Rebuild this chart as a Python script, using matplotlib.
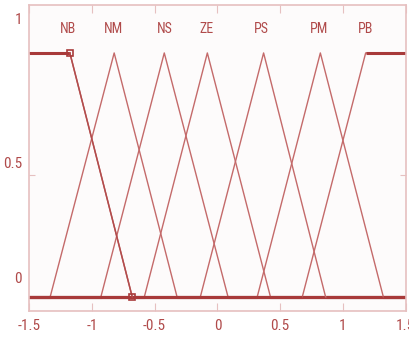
import numpy as np
import matplotlib
matplotlib.use("Agg")
import matplotlib.pyplot as plt
import matplotlib.transforms as mtransforms

# membership functions: (name, x breakpoints, y values)
names = ["NB", "NM", "NS", "ZE", "PS", "PM", "PB"]
mf_x = [
    [-1.5, -1.175, -0.678, 1.5],
    [-1.5, -1.332, -0.822, -0.321, 1.5],
    [-1.5, -0.928, -0.423, 0.085, 1.5],
    [-1.5, -0.582, -0.080, 0.423, 1.5],
    [-1.5, -0.136, 0.368, 0.862, 1.5],
    [-1.5, 0.317, 0.820, 1.322, 1.5],
    [-1.5, 0.676, 1.181, 1.5],
]
mf_y = [
    [1, 1, 0, 0],
    [0, 0, 1, 0, 0],
    [0, 0, 1, 0, 0],
    [0, 0, 1, 0, 0],
    [0, 0, 1, 0, 0],
    [0, 0, 1, 0, 0],
    [0, 0, 1, 1],
]
label_x = [-1.19, -0.83, -0.42, -0.09, 0.35, 0.81, 1.18]
xticks = [-1.5, -1, -0.5, 0, 0.5, 1, 1.5]
yticks = [0, 0.5, 1]
ytick_labels = ["0", "0.5", "1"]

thin_c = "#c46a6a"
thick_c = "#a83a3a"
frame_c = "#e6c0c0"
text_c = "#b04a4a"
font = ["Liberation Sans Narrow", "DejaVu Sans Condensed", "Roboto Condensed",
        "Liberation Sans", "DejaVu Sans"]

fig = plt.figure(figsize=(4.09, 3.47), dpi=100)
ax = fig.add_axes([0.071, 0.104, 0.921, 0.882])
ax.set_facecolor("#fdfbfb")

for name, xs, ys in zip(names, mf_x, mf_y):
    ax.plot(xs, ys, color=thin_c, lw=1.0)
    # flat parts drawn heavier, as in the picture
    for i in range(len(xs) - 1):
        if ys[i] == ys[i + 1]:
            ax.plot(xs[i:i + 2], ys[i:i + 2], color=thick_c, lw=2.2,
                    solid_capstyle="butt")

# selected MF (NB): a bit darker, with square vertex markers
ax.plot(mf_x[0][1:3], mf_y[0][1:3], color="#b24c4c", lw=1.1)
ax.plot(mf_x[0][1:3], mf_y[0][1:3], ls="none", marker="s", ms=4,
        mfc="none", mec=thick_c, mew=1.2)

for name, lx in zip(names, label_x):
    ax.text(lx, 1.1, name, ha="center", va="center", color=text_c,
            fontsize=10, family=font)

ax.set_xlim(-1.5, 1.5)
ax.set_ylim(-0.057, 1.197)
ax.set_xticks(xticks)
ax.set_xticklabels([f"{t:g}" for t in xticks], family=font, fontsize=11,
                   color=text_c)
ax.set_yticks(yticks)
ax.set_yticklabels(ytick_labels, family=font, fontsize=11, color=text_c)
ax.tick_params(axis="x", direction="in", length=6, width=0.8, color=frame_c,
               top=True, pad=6)
ax.tick_params(axis="y", direction="in", length=4, width=0.8, color=frame_c,
               right=True, pad=5)
for s in ax.spines.values():
    s.set_color(frame_c)
    s.set_linewidth(1.2)

# y labels sit higher than their ticks in the picture
shifts = [14, 9, 25]
for lab, dy in zip(ax.get_yticklabels(), shifts):
    lab.set_transform(lab.get_transform() +
                      mtransforms.ScaledTranslation(0, dy / 72, fig.dpi_scale_trans))

fig.savefig("out.png", dpi=100)
